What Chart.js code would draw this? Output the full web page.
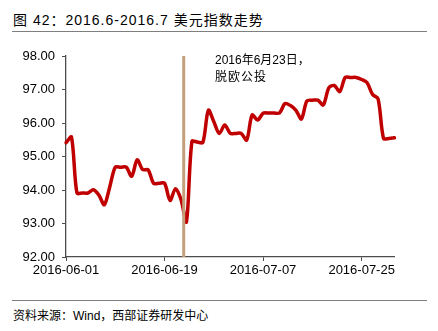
<!DOCTYPE html>
<html>
<head>
<meta charset="utf-8">
<script src="https://cdn.jsdelivr.net/npm/chart.js@4.4.0/dist/chart.umd.min.js"></script>
<style>
  html, body { margin: 0; padding: 0; background: #fff; }
  body { width: 438px; height: 331px; position: relative; overflow: hidden;
         font-family: "Liberation Sans", "Noto Sans CJK SC", sans-serif; color: #000; }
  #title { position: absolute; left: 13px; top: 9px; font-size: 14px; letter-spacing: 1px; white-space: nowrap; }
  .rule { position: absolute; left: 12px; width: 415px; height: 0; border-top: 1.5px solid #7f7f7f; }
  #src { position: absolute; left: 13px; top: 306px; font-size: 12px; white-space: nowrap; }
  #note { position: absolute; left: 215px; top: 52px; font-size: 12px; line-height: 17px; white-space: nowrap; }
  #note .l2 { letter-spacing: 1px; }
  #wrap { position: absolute; left: 0; top: 40px; width: 438px; height: 250px; }
</style>
</head>
<body>
<div id="title">图 42：2016.6-2016.7 美元指数走势</div>
<div class="rule" style="top:31px"></div>
<div id="wrap"><canvas id="dxy" width="438" height="250"></canvas></div>
<div id="note">2016年6月23日，<br><span class="l2">脱欧公投</span></div>
<div class="rule" style="top:300px"></div>
<div id="src">资料来源：Wind，西部证券研发中心</div>

<script>
// calendar days, weekends carry the Friday close
const dates = [
  '2016-06-01','2016-06-02','2016-06-03','2016-06-04','2016-06-05','2016-06-06','2016-06-07',
  '2016-06-08','2016-06-09','2016-06-10','2016-06-11','2016-06-12','2016-06-13','2016-06-14',
  '2016-06-15','2016-06-16','2016-06-17','2016-06-18','2016-06-19','2016-06-20','2016-06-21',
  '2016-06-22','2016-06-23','2016-06-24','2016-06-25','2016-06-26','2016-06-27','2016-06-28',
  '2016-06-29','2016-06-30','2016-07-01','2016-07-02','2016-07-03','2016-07-04','2016-07-05',
  '2016-07-06','2016-07-07','2016-07-08','2016-07-09','2016-07-10','2016-07-11','2016-07-12',
  '2016-07-13','2016-07-14','2016-07-15','2016-07-16','2016-07-17','2016-07-18','2016-07-19',
  '2016-07-20','2016-07-21','2016-07-22','2016-07-23','2016-07-24','2016-07-25','2016-07-26',
  '2016-07-27','2016-07-28','2016-07-29','2016-07-30','2016-07-31'
];
const dxy = [
  95.41, 95.58, 93.91, 93.91, 93.91, 94.01, 93.85,
  93.56, 94.10, 94.68, 94.68, 94.68, 94.41, 94.90,
  94.61, 94.60, 94.20, 94.20, 94.20, 93.69, 94.04,
  93.72, 93.05, 95.45, 95.43, 95.42, 96.38, 96.04,
  95.69, 95.94, 95.69, 95.69, 95.69, 95.49, 96.24,
  96.09, 96.29, 96.30, 96.30, 96.30, 96.58, 96.52,
  96.38, 96.12, 96.66, 96.68, 96.68, 96.54, 97.05,
  97.12, 96.94, 97.36, 97.36, 97.36, 97.30, 97.20,
  96.85, 96.72, 95.54, 95.54, 95.56
];
const xTickLabels = ['2016-06-01', '2016-06-19', '2016-07-07', '2016-07-25'];
const yMin = 92, yMax = 98;
const eventDate = '2016-06-23';

const axisColor = '#4d4d4d';
const tickFont = { family: '"Liberation Sans", Arial, sans-serif', size: 13 };

// brexit vote marker
const eventLine = {
  id: 'eventLine',
  afterDatasetsDraw(chart) {
    const { ctx, chartArea, scales } = chart;
    const x = scales.x.getPixelForValue(dates.indexOf(eventDate) - 0.5);
    ctx.save();
    ctx.strokeStyle = '#c4a07a';
    ctx.lineWidth = 3;
    ctx.beginPath();
    ctx.moveTo(x, chartArea.top);
    ctx.lineTo(x, chartArea.bottom);
    ctx.stroke();
    ctx.restore();
  }
};

new Chart(document.getElementById('dxy').getContext('2d'), {
  type: 'line',
  data: {
    labels: dates,
    datasets: [{
      data: dxy,
      borderColor: '#c00000',
      borderWidth: 3.5,
      pointRadius: 0,
      tension: 0.3,
      borderJoinStyle: 'round',
      borderCapStyle: 'round',
      fill: false
    }]
  },
  options: {
    responsive: false,
    animation: false,
    devicePixelRatio: 1,
    layout: { padding: { top: 16, right: 43.5, bottom: 0, left: 0 } },
    plugins: { legend: { display: false }, tooltip: { enabled: false } },
    scales: {
      x: {
        type: 'category',
        offset: false,
        grid: { drawOnChartArea: false, tickLength: 4, color: axisColor },
        border: { color: axisColor, width: 1.3 },
        ticks: { autoSkip: false, maxRotation: 0, font: tickFont, color: '#000', padding: 2 },
        afterBuildTicks: (axis) => {
          axis.ticks = axis.ticks.filter(t => xTickLabels.includes(dates[t.value]));
        },
        afterFit: (axis) => { axis.height = 33; }
      },
      y: {
        min: yMin,
        max: yMax,
        grid: { drawOnChartArea: false, tickLength: 4, color: axisColor },
        border: { color: axisColor, width: 1.3 },
        ticks: { stepSize: 1, font: tickFont, color: '#000', padding: 7,
                 callback: v => v.toFixed(2) },
        afterFit: (axis) => { axis.width = 66; }
      }
    }
  },
  plugins: [eventLine]
});
</script>
</body>
</html>
